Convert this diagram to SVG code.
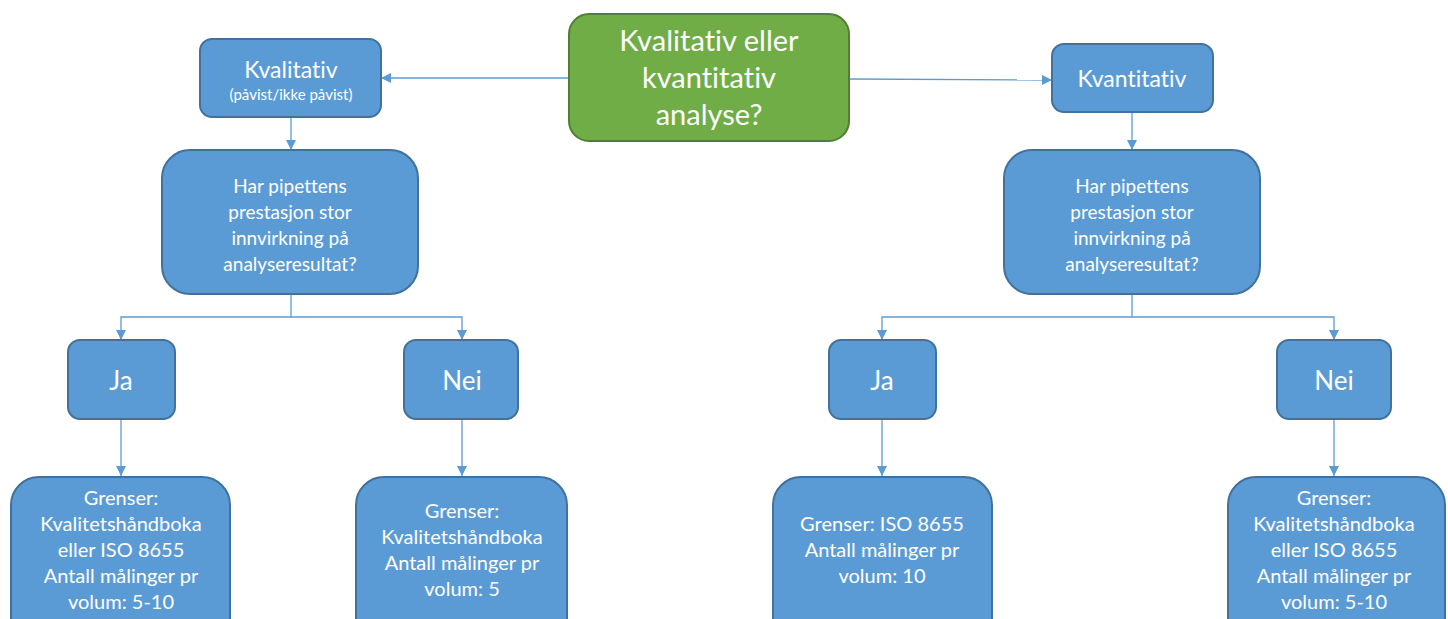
<svg xmlns="http://www.w3.org/2000/svg" width="1448" height="619" viewBox="0 0 1448 619">
<defs>
<marker id="arr" viewBox="0 0 10 10" refX="10" refY="5" markerWidth="10" markerHeight="10" markerUnits="userSpaceOnUse" orient="auto">
<path d="M0,0 L10,5 L0,10 z" fill="#5B9BD5"/>
</marker>
<style>
.b{fill:#5B9BD5;stroke:#41719C;stroke-width:2}
.g{fill:#70AD47;stroke:#507E32;stroke-width:2}
text{font-family:Lato,"Open Sans","Liberation Sans",sans-serif;fill:#fff;text-anchor:middle;font-variant-ligatures:none;font-feature-settings:"liga" 0, "clig" 0;letter-spacing:0.01px}
.c{fill:none;stroke:#5B9BD5;stroke-width:1.3}
.t17{font-size:19px}
.t18{font-size:20px}
</style>
</defs>
<rect width="1448" height="619" fill="#fff"/>
<g id="connectors">
<path class="c" d="M569,78 H381" marker-end="url(#arr)"/>
<path class="c" d="M849,79 L1052,80" marker-end="url(#arr)"/>
<path class="c" d="M291,117 V150" marker-end="url(#arr)"/>
<path class="c" d="M1132,112 V150" marker-end="url(#arr)"/>
<path class="c" d="M291,294 V317 H121 V340" marker-end="url(#arr)"/>
<path class="c" d="M291,317 H462 V340" marker-end="url(#arr)"/>
<path class="c" d="M1132,294 V317 H882 V340" marker-end="url(#arr)"/>
<path class="c" d="M1132,317 H1334 V340" marker-end="url(#arr)"/>
<path class="c" d="M121,419 V476" marker-end="url(#arr)"/>
<path class="c" d="M462,419 V476" marker-end="url(#arr)"/>
<path class="c" d="M882,419 V476" marker-end="url(#arr)"/>
<path class="c" d="M1334,419 V476" marker-end="url(#arr)"/>
</g>
<g id="root">
<rect class="g" x="569" y="14" width="280" height="127" rx="20"/>
<text x="709" y="51" font-size="29">Kvalitativ eller</text>
<text x="709" y="88" font-size="29">kvantitativ</text>
<text x="709" y="125" font-size="29">analyse?</text>
</g>
<g id="kvalitativ">
<rect class="b" x="200" y="39" width="181" height="78" rx="12"/>
<text x="291" y="78" font-size="23">Kvalitativ</text>
<text x="291" y="100" font-size="15">(påvist/ikke påvist)</text>
</g>
<g id="kvantitativ">
<rect class="b" x="1052" y="44" width="161" height="68" rx="12"/>
<text x="1132" y="87" font-size="23">Kvantitativ</text>
</g>
<g id="q-left">
<rect class="b" x="162" y="150" width="256" height="144" rx="28"/>
<text class="t17" x="290" y="193">Har pipettens</text>
<text class="t17" x="290" y="219">prestasjon stor</text>
<text class="t17" x="290" y="245">innvirkning på</text>
<text class="t17" x="290" y="271">analyseresultat?</text>
</g>
<g id="q-right">
<rect class="b" x="1004" y="150" width="256" height="144" rx="28"/>
<text class="t17" x="1132" y="193">Har pipettens</text>
<text class="t17" x="1132" y="219">prestasjon stor</text>
<text class="t17" x="1132" y="245">innvirkning på</text>
<text class="t17" x="1132" y="271">analyseresultat?</text>
</g>
<g id="ja-left">
<rect class="b" x="68" y="340" width="107" height="79" rx="12"/>
<text x="121" y="390" font-size="26">Ja</text>
</g>
<g id="nei-left">
<rect class="b" x="404" y="340" width="114" height="79" rx="12"/>
<text x="462" y="390" font-size="26">Nei</text>
</g>
<g id="ja-right">
<rect class="b" x="829" y="340" width="107" height="79" rx="12"/>
<text x="882" y="390" font-size="26">Ja</text>
</g>
<g id="nei-right">
<rect class="b" x="1277" y="340" width="114" height="79" rx="12"/>
<text x="1334" y="390" font-size="26">Nei</text>
</g>
<g id="res-ja-left">
<rect class="b" x="11" y="477" width="219" height="170" rx="28"/>
<text class="t18" x="121" y="505">Grenser:</text>
<text class="t18" x="121" y="531">Kvalitetshåndboka</text>
<text class="t18" x="121" y="557">eller ISO 8655</text>
<text class="t18" x="121" y="583">Antall målinger pr</text>
<text class="t18" x="121" y="609">volum: 5-10</text>
</g>
<g id="res-nei-left">
<rect class="b" x="356" y="477" width="211" height="170" rx="28"/>
<text class="t18" x="462" y="518">Grenser:</text>
<text class="t18" x="462" y="544">Kvalitetshåndboka</text>
<text class="t18" x="462" y="570">Antall målinger pr</text>
<text class="t18" x="462" y="596">volum: 5</text>
</g>
<g id="res-ja-right">
<rect class="b" x="773" y="477" width="219" height="170" rx="28"/>
<text class="t18" x="882" y="531">Grenser: ISO 8655</text>
<text class="t18" x="882" y="557">Antall målinger pr</text>
<text class="t18" x="882" y="583">volum: 10</text>
</g>
<g id="res-nei-right">
<rect class="b" x="1228" y="477" width="217" height="170" rx="28"/>
<text class="t18" x="1334" y="505">Grenser:</text>
<text class="t18" x="1334" y="531">Kvalitetshåndboka</text>
<text class="t18" x="1334" y="557">eller ISO 8655</text>
<text class="t18" x="1334" y="583">Antall målinger pr</text>
<text class="t18" x="1334" y="609">volum: 5-10</text>
</g>
</svg>
